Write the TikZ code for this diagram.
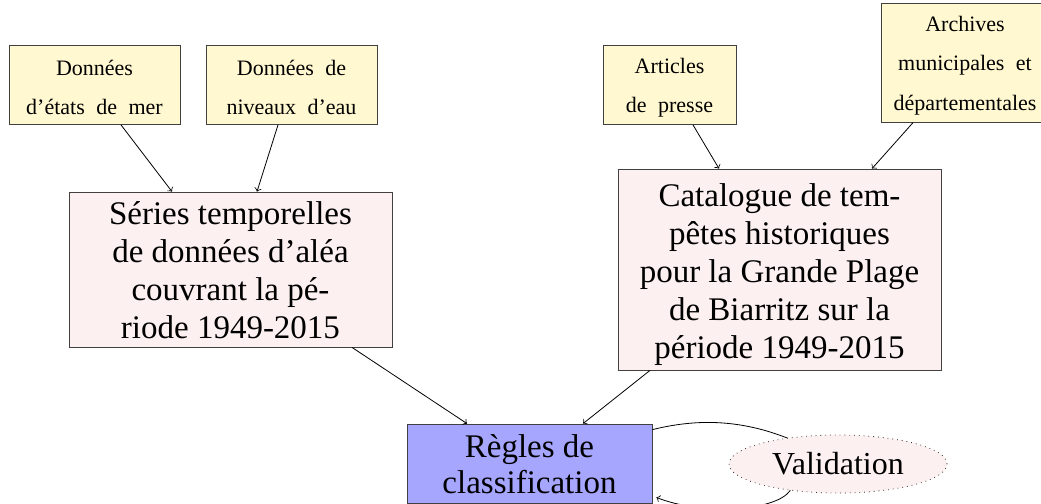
\documentclass[tikz,border=0pt]{standalone}
\usepackage{fontspec}
\setmainfont{Liberation Serif}
\usetikzlibrary{shapes.geometric,calc}
\definecolor{srcyellow}{RGB}{255,248,208}
\definecolor{boxpink}{RGB}{253,240,240}
\definecolor{ruleblue}{RGB}{166,166,255}
\definecolor{edgegray}{RGB}{64,64,64}
\newcommand{\stacklines}[2]{\raisebox{#1}[\height][\depth]{\begin{tabular}{@{}c@{}}#2\end{tabular}}}
\tikzset{
  srcbox/.style={draw=edgegray, fill=srcyellow, inner sep=0pt,
    font={\fontsize{11}{19.75}\selectfont\spaceskip=5.75pt plus 1pt}},
  bigbox/.style={draw=edgegray, fill=boxpink, inner sep=0pt,
    font=\fontsize{16.5}{19}\selectfont},
  rulebox/.style={draw=edgegray, fill=ruleblue, inner sep=0pt,
    font=\fontsize{16.5}{18}\selectfont},
  valid/.style={ellipse, draw=black!80, dotted, fill=boxpink, inner sep=0pt,
    font=\fontsize{16}{18}\selectfont},
  conn/.style={->, black, line width=0.4pt},
}
\begin{document}
\begin{tikzpicture}[x=0.5pt, y=-0.5pt]
\useasboundingbox (0,0) rectangle (1041,504);
% source boxes
\node[srcbox, minimum width=85.5pt, minimum height=36pt] (b1) at (94.5,85)
  {\stacklines{-1pt}{Données\\d’états de mer}};
\node[srcbox, minimum width=85.5pt, minimum height=36pt] (b2) at (291.5,85)
  {\stacklines{-1pt}{Données de\\niveaux d’eau}};
\node[srcbox, minimum width=66.5pt, minimum height=38pt] (b3) at (669.5,85)
  {\stacklines{0pt}{Articles\\de presse}};
\node[srcbox, minimum width=84pt, minimum height=57pt] (b4) at (965,63)
  {\stacklines{0pt}{Archives\\municipales et\\départementales}};
% intermediate boxes
\node[bigbox, minimum width=161.5pt, minimum height=77.5pt] (b5) at (230.5,269.5)
  {\stacklines{-2pt}{Séries temporelles\\de données d’aléa\\couvrant la pé-\\riode 1949-2015}};
\node[bigbox, minimum width=161.5pt, minimum height=100.5pt] (b6) at (779.5,269.5)
  {\stacklines{-2.5pt}{Catalogue de tem-\\pêtes historiques\\pour la Grande Plage\\de Biarritz sur la\\période 1949-2015}};
% rules
\node[rulebox, minimum width=122.5pt, minimum height=39.5pt] (b7) at (529.5,463.5)
  {\stacklines{-2.5pt}{Règles de\\classification}};
% validation loop
\draw[line width=0.4pt] ([yshift=-3pt]b7.north east) .. controls (700,418) and (760,415) .. (838,464);
\node[valid, minimum width=109pt, minimum height=29pt] (v) at (838,464) {Validation};
\draw[conn] (v.209) .. controls (775,512) and (700,515) .. ([xshift=2pt,yshift=3pt]b7.south east);
% connectors
\draw[conn] ([xshift=13.25pt]b1.south) -- ([xshift=-29.25pt]b5.north);
\draw[conn] ([xshift=-6.75pt]b2.south) -- ([xshift=13.25pt]b5.north);
\draw[conn] ([xshift=11.75pt]b3.south) -- ([xshift=-30.25pt]b6.north);
\draw[conn] ([xshift=-26pt]b4.south) -- ([xshift=46.25pt]b6.north);
\draw[conn] ([xshift=60.75pt]b5.south) -- ([xshift=-31.25pt]b7.north);
\draw[conn] ([xshift=-64.75pt]b6.south) -- ([xshift=26.75pt]b7.north);
\end{tikzpicture}
\end{document}
